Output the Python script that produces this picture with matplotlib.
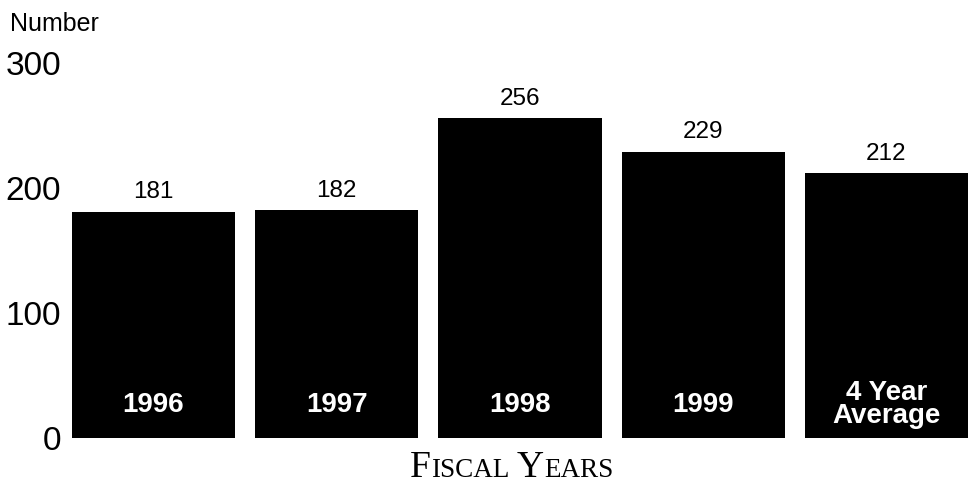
import matplotlib.pyplot as plt
from matplotlib.offsetbox import TextArea, HPacker, AnchoredOffsetbox

categories = ['1996', '1997', '1998', '1999', '4 Year\nAverage']
values = [181, 182, 256, 229, 212]
yticks = [0, 100, 200, 300]

fig = plt.figure(figsize=(9.75, 4.93), dpi=100)
ax = fig.add_axes([0.0738, 0.1116, 0.919, 0.7606])

xs = range(len(values))
ax.bar(xs, values, width=0.89, color='black')

for x, v, lab in zip(xs, values, categories):
    ax.annotate(str(v), xy=(x, v), xytext=(0, 6), textcoords='offset points',
                ha='center', va='bottom', fontsize=17.5, family='Liberation Sans')
    ax.annotate(lab, xy=(x, 0), xytext=(0, 24), textcoords='offset points',
                ha='center', va='center', fontsize=20, fontweight='bold',
                color='white', family='Liberation Sans', linespacing=0.85)

ax.set_xlim(-0.445, len(values) - 1 + 0.445)
ax.set_ylim(0, 300)
ax.set_yticks(yticks)
ax.set_yticklabels([str(t) for t in yticks], fontsize=24, family='Liberation Sans')
ax.tick_params(axis='y', length=0, pad=8)
ax.set_xticks([])
for s in ax.spines.values():
    s.set_visible(False)

fig.text(0.01, 0.952, 'Number', fontsize=18, family='Liberation Sans', va='center')

# small caps axis title
big = dict(fontsize=27, family='Liberation Serif')
small = dict(fontsize=19.5, family='Liberation Serif')
parts = [TextArea('F', textprops=big), TextArea('ISCAL', textprops=small),
         TextArea(' Y', textprops=big), TextArea('EARS', textprops=small)]
pack = HPacker(children=parts, align='baseline', pad=0, sep=0)
box = AnchoredOffsetbox(loc='center', child=pack, frameon=False,
                        bbox_to_anchor=(0.525, 0.052), bbox_transform=fig.transFigure)
fig.add_artist(box)

fig.savefig('out.png', dpi=100, facecolor='white')
